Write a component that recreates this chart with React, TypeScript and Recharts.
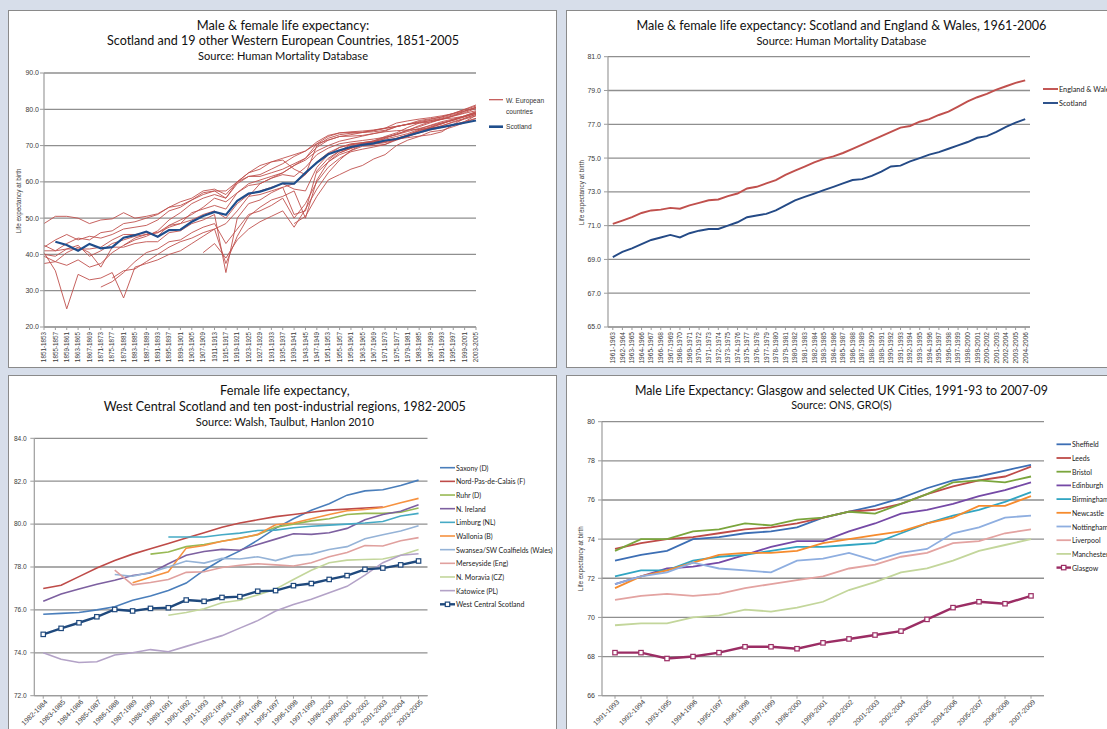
import React from "react"
import { LineChart, Line, XAxis, YAxis, CartesianGrid } from "recharts"

const TITLE_FONT = "Lato, 'Open Sans', sans-serif"
const AXIS_FONT = "'Liberation Sans', Arial, sans-serif"
const GRID = "#8f8f8f"
const AXIS = "#9c9c9c"
const TICK_TEXT = "#3a3a3a"
const RED = "#c0504d"
const BLUE = "#1f4e8c"

// pads a series that starts later than the first period
const late = (start: number, values: number[]) => [...Array(start).fill(null), ...values]

// ---------- panel 1: Scotland and 19 W. European countries, 1851-2005
const euPeriods = [
  "1851-1853", "1855-1857", "1859-1861", "1863-1865", "1867-1869", "1871-1873", "1875-1877",
  "1879-1881", "1883-1885", "1887-1889", "1891-1893", "1895-1897", "1899-1901", "1903-1905",
  "1907-1909", "1911-1913", "1915-1917", "1919-1921", "1923-1925", "1927-1929", "1931-1933",
  "1935-1937", "1939-1941", "1943-1945", "1947-1949", "1951-1953", "1955-1957", "1959-1961",
  "1963-1965", "1967-1969", "1971-1973", "1975-1977", "1979-1981", "1983-1985", "1987-1989",
  "1991-1993", "1995-1997", "1999-2001", "2003-2005",
]
const euTicks = [20, 30, 40, 50, 60, 70, 80, 90]
const scotlandLong = [null, 43.5, 42.6, 41.0, 42.9, 41.7, 42.0, 44.6, 45.3, 46.3, 44.9, 46.7, 46.8, 49.0, 50.6, 51.7, 50.9, 54.8, 56.8, 57.3, 58.3, 59.6, 59.5, 62.5, 65.3, 67.6, 68.7, 69.6, 70.2, 70.6, 71.4, 71.8, 72.7, 73.6, 74.5, 75.1, 75.7, 76.3, 76.9]
const sweden = [42.5, 41, 43, 44.5, 44, 46, 46.5, 48.5, 49, 50, 51, 53, 53.5, 55, 57, 57.5, 55.5, 59.5, 61.5, 62, 63.5, 65, 67, 68.5, 70.5, 71.5, 72.5, 73, 73.6, 74.2, 74.8, 75.3, 75.8, 76.6, 77.2, 77.9, 78.8, 79.6, 80.4]
const norway = [48.5, 50.5, 50.5, 50, 48.5, 49.5, 49.8, 51.5, 50, 50.5, 51.2, 53, 54.5, 55.5, 57.5, 58, 56.5, 60, 62.5, 63.5, 65.5, 66.5, 67.5, 68.5, 71, 72.8, 73.5, 73.6, 73.7, 74.1, 74.7, 75.3, 75.9, 76.2, 76.5, 77.3, 78.1, 78.9, 79.6]
const denmark = [42, 44, 45.5, 44, 45, 44.5, 45.5, 47, 47.5, 48, 49.5, 52, 53, 55, 56.5, 57.5, 57.5, 60, 61.5, 61.5, 62.5, 63.5, 65, 66.5, 69.5, 71.5, 72.5, 72.6, 72.8, 73.3, 73.8, 74.1, 74.3, 74.5, 74.8, 75.1, 75.7, 76.6, 77.5]
const france = [39.5, 38, 40.5, 42, 40.5, 36.5, 42, 42, 43, 43.5, 43.5, 46, 46.5, 48.5, 49.5, 51, 35, 50, 54, 55, 57, 58.5, 51, 52, 63, 66.5, 68.5, 70.3, 70.8, 71.3, 72.2, 73, 74.3, 75.2, 76.3, 77.3, 78.2, 79.1, 80.2]
const netherlands = [37.5, 38, 37, 38.5, 36.5, 37.5, 40.5, 42.5, 44, 45, 46.5, 49.5, 51.5, 54, 55.5, 56.5, 55.5, 60, 62.5, 64.5, 65.5, 66, 63.5, 62, 70, 72, 73, 73.4, 73.6, 73.8, 74.2, 75.2, 75.9, 76.4, 76.9, 77.3, 77.6, 78.1, 79]
const belgium = [40, 39.5, 41.5, 42.5, 39.5, 41, 43, 44, 45, 45.5, 46, 47.5, 48.5, 49.5, 51, 52, 50, 54, 56.5, 57.5, 58.5, 59.5, 58, 57.5, 64, 67.5, 69.5, 70.5, 70.8, 71.2, 71.8, 72.5, 73.3, 74.5, 75.6, 76.6, 77.3, 78, 78.9]
const englandWalesLong = [41, 41, 41.5, 41.5, 41.5, 42, 44, 45.5, 45.5, 46, 45, 48, 48.5, 51.5, 52.5, 53.5, 52.5, 57, 59, 59.5, 61, 62, 61.5, 64, 67.5, 69.3, 70.5, 71, 71.4, 71.8, 72.3, 73, 73.9, 74.7, 75.5, 76.3, 77, 77.9, 78.9]
const iceland = [40.5, 35.5, 25, 34.5, 33, 33.5, 35, 28, 36.5, 37.5, 38.5, 40, 41, 43, 45, 47, 48.5, 52, 56, 59.5, 61, 62.5, 64.5, 66.5, 70.5, 72.5, 73.5, 73.8, 74, 74.3, 74.8, 76.2, 76.8, 77.3, 77.7, 78.2, 78.8, 80, 81.2]
const finland = late(5, [31, 32.5, 35, 38, 40.5, 41.5, 43.5, 44, 46, 47.5, 48.5, 43, 47, 51, 52, 53.5, 55.5, 50, 54, 60, 64, 66.5, 68.3, 69, 69.6, 70.3, 71.8, 73, 74.2, 74.8, 75.4, 76.6, 77.5, 78.6])
const italy = late(6, [33.5, 35.5, 36, 38, 40, 42, 43.5, 44.5, 46, 47, 37.5, 45, 50.5, 53, 55, 56, 57.5, 50, 60.5, 65.5, 68, 69.3, 70.2, 71, 72, 73.2, 74.2, 75.5, 76.6, 77.2, 78.2, 79.5, 80.6])
const switzerland = late(7, [42.5, 44.5, 45.5, 46, 48, 49.5, 51, 53, 55.5, 54.5, 57, 59.5, 60.5, 61.5, 62.5, 64.5, 66, 68.5, 70, 71.2, 71.9, 72.6, 73.3, 74, 75.2, 75.9, 76.9, 77.4, 77.9, 78.9, 79.9, 80.9])
const spain = late(14, [40.5, 43, 39, 44, 47, 49, 50.5, 52, 47.5, 52.5, 58, 62.5, 66, 68.7, 70.2, 71.3, 72.5, 73.5, 75, 76.2, 76.9, 77.6, 78.5, 79.4, 80.5])
const northernIrelandLong = late(18, [56, 56.5, 57.5, 58.5, 59.5, 62, 65.5, 68, 69.5, 70.2, 70.6, 71, 71.2, 71.8, 72.7, 73.7, 74.6, 75.5, 76.4, 77.3, 78.2])
const portugal = late(22, [48.5, 50.5, 56, 60.5, 62, 63.5, 64.5, 66.3, 67.5, 70, 71.5, 72.5, 73.8, 74.2, 75.2, 76.3, 77.5])
const ireland = late(25, [66, 68.5, 69.8, 70.6, 71, 71.3, 72, 72.8, 73.5, 74.3, 75, 75.6, 76.6, 78.3])
const austria = late(24, [62.5, 65.5, 67.5, 68.6, 69.8, 70, 70.3, 71.5, 72.5, 73.6, 75, 76, 77, 78.2, 79.3])
const westGermany = late(26, [68.5, 69.3, 70.2, 70.4, 70.8, 71.6, 72.8, 74.2, 75.2, 76.2, 77, 78, 79])
const eastGermany = late(26, [68, 69.2, 70.5, 71, 71.3, 71.8, 72.2, 72.6, 73, 73.8, 75.8, 77.5, 78.6])
const luxembourg = late(28, [70, 70.5, 71, 72, 72.8, 74, 75, 76, 77.2, 78.2, 79.3])

const euSeries: [string, (number | null)[]][] = [
  ["Sweden", sweden], ["Norway", norway], ["Denmark", denmark], ["France", france],
  ["Netherlands", netherlands], ["Belgium", belgium], ["EnglandWales", englandWalesLong],
  ["Iceland", iceland], ["Finland", finland], ["Italy", italy], ["Switzerland", switzerland],
  ["Spain", spain], ["NorthernIreland", northernIrelandLong], ["Portugal", portugal],
  ["Ireland", ireland], ["Austria", austria], ["WestGermany", westGermany],
  ["EastGermany", eastGermany], ["Luxembourg", luxembourg],
]
const euData = euPeriods.map((period, i) => {
  const row: Record<string, string | number | null> = { period, Scotland: scotlandLong[i] }
  euSeries.forEach(([key, vals]) => { row[key] = vals[i] })
  return row
})

// ---------- panel 2: Scotland vs England & Wales, 1961-2006
const ukPeriods = [
  "1961-1963", "1962-1964", "1963-1965", "1964-1966", "1965-1967", "1966-1968", "1967-1969",
  "1968-1970", "1969-1971", "1970-1972", "1971-1973", "1972-1974", "1973-1975", "1974-1976",
  "1975-1977", "1976-1978", "1977-1979", "1978-1980", "1979-1981", "1980-1982", "1981-1983",
  "1982-1984", "1983-1985", "1984-1986", "1985-1987", "1986-1988", "1987-1989", "1988-1990",
  "1989-1991", "1990-1992", "1991-1993", "1992-1994", "1993-1995", "1994-1996", "1995-1997",
  "1996-1998", "1997-1999", "1998-2000", "1999-2001", "2000-2002", "2001-2003", "2002-2004",
  "2003-2005", "2004-2006",
]
const ukTicks = [65, 67, 69, 71, 73, 75, 77, 79, 81]
const englandWales = [71.1, 71.3, 71.5, 71.75, 71.9, 71.95, 72.05, 72.0, 72.2, 72.35, 72.5, 72.55, 72.75, 72.9, 73.2, 73.3, 73.5, 73.7, 74.0, 74.25, 74.5, 74.75, 74.95, 75.1, 75.3, 75.55, 75.8, 76.05, 76.3, 76.55, 76.8, 76.9, 77.15, 77.3, 77.55, 77.75, 78.05, 78.35, 78.6, 78.8, 79.05, 79.25, 79.45, 79.6]
const scotland = [69.14, 69.45, 69.65, 69.9, 70.15, 70.3, 70.45, 70.3, 70.55, 70.7, 70.8, 70.8, 71.0, 71.2, 71.5, 71.6, 71.7, 71.9, 72.2, 72.5, 72.7, 72.9, 73.1, 73.3, 73.5, 73.7, 73.75, 73.95, 74.2, 74.5, 74.55, 74.8, 75.0, 75.2, 75.35, 75.55, 75.75, 75.95, 76.2, 76.3, 76.55, 76.85, 77.1, 77.3]
const ukData = ukPeriods.map((period, i) => ({ period, ew: englandWales[i], scot: scotland[i] }))

// ---------- panel 3: female LE, West Central Scotland and ten regions
const regPeriods = [
  "1982-1984", "1983-1985", "1984-1986", "1985-1987", "1986-1988", "1987-1989", "1988-1990",
  "1989-1991", "1990-1992", "1991-1993", "1992-1994", "1993-1995", "1994-1996", "1995-1997",
  "1996-1998", "1997-1999", "1998-2000", "1999-2001", "2000-2002", "2001-2003", "2002-2004",
  "2003-2005",
]
const regTicks = [72, 74, 76, 78, 80, 82, 84]
const saxony = [75.8, 75.84, 75.88, 76.0, 76.15, 76.45, 76.65, 76.9, 77.25, 77.85, 78.35, 78.75, 79.25, 79.8, 80.25, 80.65, 80.95, 81.35, 81.55, 81.6, 81.8, 82.05]
const nordPas = [77.0, 77.15, 77.55, 77.95, 78.3, 78.6, 78.85, 79.1, 79.35, 79.6, 79.85, 80.05, 80.2, 80.35, 80.45, 80.55, 80.65, 80.7, 80.75, 80.8, null, null]
const ruhr = late(6, [78.6, 78.7, 78.95, 79.05, 79.2, 79.35, 79.5, 79.85, 80.0, 80.15, 80.25, 80.45, 80.5, 80.5, 80.55, 80.75])
const nIreland = [76.4, 76.74, 76.97, 77.2, 77.38, 77.6, 77.72, 78.15, 78.55, 78.72, 78.82, 78.78, 79.05, 79.3, 79.55, 79.52, 79.6, 79.8, 80.2, 80.45, 80.6, 80.9]
const limburg = late(7, [79.4, 79.4, 79.4, 79.5, 79.58, 79.7, 79.72, 79.83, 79.9, 79.95, 80.0, 80.05, 80.12, 80.38, 80.5])
const wallonia = late(5, [77.27, 77.52, 77.78, 78.88, 79.0, 79.2, 79.33, 79.52, 79.97, 80.05, 80.25, 80.45, 80.62, 80.68, 80.77, 81.0, 81.2])
const swansea = late(4, [77.65, 77.57, 77.75, 78.0, 78.28, 78.18, 78.4, 78.37, 78.48, 78.3, 78.53, 78.6, 78.82, 78.95, 79.32, 79.5, 79.68, 79.92])
const merseyside = late(4, [77.85, 77.17, 77.28, 77.42, 77.75, 77.78, 77.98, 78.08, 78.15, 78.1, 78.05, 78.2, 78.48, 78.68, 79.0, 78.98, 79.22, 79.37])
const nMoravia = late(7, [75.75, 75.88, 76.05, 76.33, 76.45, 76.7, 76.97, 77.42, 77.85, 78.2, 78.32, 78.35, 78.37, 78.55, 78.82])
const katowice = [74.0, 73.7, 73.55, 73.58, 73.9, 74.0, 74.15, 74.05, 74.3, 74.55, 74.8, 75.15, 75.5, 75.95, 76.25, 76.5, 76.8, 77.1, 77.62, 78.2, 78.55, 78.62]
const westCentral = [74.86, 75.14, 75.4, 75.68, 76.02, 75.95, 76.07, 76.1, 76.46, 76.4, 76.58, 76.62, 76.87, 76.9, 77.13, 77.23, 77.42, 77.6, 77.89, 77.95, 78.1, 78.28]

const regSeries: [string, string, (number | null)[]][] = [
  ["Saxony (D)", "#4a7ebb", saxony],
  ["Nord-Pas-de-Calais (F)", "#be4b48", nordPas],
  ["Ruhr (D)", "#98b954", ruhr],
  ["N. Ireland", "#7d60a0", nIreland],
  ["Limburg (NL)", "#46aac5", limburg],
  ["Wallonia (B)", "#f69240", wallonia],
  ["Swansea/SW Coalfields (Wales)", "#95b3d7", swansea],
  ["Merseyside (Eng)", "#e0a09e", merseyside],
  ["N. Moravia (CZ)", "#c3d69b", nMoravia],
  ["Katowice (PL)", "#b3a2c7", katowice],
]
const regHighlight: [string, string, number[]] = ["West Central Scotland", "#1f497d", westCentral]
const regData = regPeriods.map((period, i) => {
  const row: Record<string, string | number | null> = { period }
  regSeries.forEach(([, , vals], k) => { row["r" + k] = vals[i] })
  row.wcs = westCentral[i]
  return row
})

// ---------- panel 4: male LE, Glasgow and UK cities
const cityPeriods = [
  "1991-1993", "1992-1994", "1993-1995", "1994-1996", "1995-1997", "1996-1998", "1997-1999",
  "1998-2000", "1999-2001", "2000-2002", "2001-2003", "2002-2004", "2003-2005", "2004-2006",
  "2005-2007", "2006-2008", "2007-2009",
]
const cityTicks = [66, 68, 70, 72, 74, 76, 78, 80]
const sheffield = [72.9, 73.2, 73.4, 74.0, 74.1, 74.3, 74.4, 74.6, 75.1, 75.4, 75.7, 76.1, 76.6, 77.0, 77.2, 77.5, 77.8]
const leeds = [73.5, 73.8, 74.0, 74.1, 74.3, 74.5, 74.6, 74.8, 75.1, 75.4, 75.5, 75.8, 76.3, 76.7, 77.0, 77.2, 77.7]
const bristol = [73.4, 74.0, 74.0, 74.4, 74.5, 74.8, 74.7, 75.0, 75.1, 75.4, 75.3, 75.8, 76.3, 76.9, 77.0, 76.9, 77.2]
const edinburgh = [71.7, 72.1, 72.5, 72.6, 72.8, 73.2, 73.6, 73.9, 73.9, 74.4, 74.8, 75.3, 75.5, 75.8, 76.2, 76.5, 76.9]
const birmingham = [72.1, 72.4, 72.4, 72.9, 73.1, 73.2, 73.4, 73.6, 73.6, 73.7, 73.8, 74.3, 74.8, 75.2, 75.5, 75.9, 76.4]
const newcastle = [71.5, 72.1, 72.4, 72.8, 73.2, 73.3, 73.3, 73.4, 73.8, 74.0, 74.2, 74.4, 74.8, 75.1, 75.7, 75.7, 76.2]
const nottingham = [71.7, 72.1, 72.3, 72.8, 72.5, 72.4, 72.3, 72.9, 73.0, 73.3, 72.9, 73.3, 73.5, 74.3, 74.6, 75.1, 75.2]
const liverpool = [70.9, 71.1, 71.2, 71.1, 71.2, 71.5, 71.7, 71.9, 72.1, 72.5, 72.7, 73.1, 73.3, 73.8, 73.9, 74.3, 74.5]
const manchester = [69.6, 69.7, 69.7, 70.0, 70.1, 70.4, 70.3, 70.5, 70.8, 71.4, 71.8, 72.3, 72.5, 72.9, 73.4, 73.7, 74.0]
const glasgow = [68.2, 68.2, 67.9, 68.0, 68.2, 68.5, 68.5, 68.4, 68.7, 68.9, 69.1, 69.3, 69.9, 70.5, 70.8, 70.7, 71.1]

const citySeries: [string, string, number[]][] = [
  ["Sheffield", "#3c6eb4", sheffield],
  ["Leeds", "#be4b48", leeds],
  ["Bristol", "#7aa53c", bristol],
  ["Edinburgh", "#7549a6", edinburgh],
  ["Birmingham", "#31a5c2", birmingham],
  ["Newcastle", "#f68b2d", newcastle],
  ["Nottingham", "#8eaee0", nottingham],
  ["Liverpool", "#e3a3a1", liverpool],
  ["Manchester", "#c3d69b", manchester],
]
const cityHighlight: [string, string, number[]] = ["Glasgow", "#9b2d64", glasgow]
const cityData = cityPeriods.map((period, i) => {
  const row: Record<string, string | number> = { period }
  citySeries.forEach(([, , vals], k) => { row["c" + k] = vals[i] })
  row.glasgow = glasgow[i]
  return row
})

// ---------- shared bits
function VerticalTick(props: any) {
  const { x, y, payload, fs } = props
  return (
    <g transform={`translate(${x},${y}) rotate(-90)`}>
      <text x={0} y={0} dy="0.35em" textAnchor="end" fontSize={fs} fill={TICK_TEXT} fontFamily={AXIS_FONT}>
        {payload.value}
      </text>
    </g>
  )
}

function SlantTick(props: any) {
  const { x, y, payload } = props
  return (
    <g transform={`translate(${x + 3},${y + 1}) rotate(-45)`}>
      <text x={0} y={0} dy="0.35em" textAnchor="end" fontSize={7} fill={TICK_TEXT} fontFamily={AXIS_FONT}>
        {payload.value}
      </text>
    </g>
  )
}

const squareDot = (color: string) => (p: any) => {
  if (p.cx == null || p.cy == null || p.value == null) return <g key={`e${p.index}`} />
  return (
    <rect key={`s${p.index}`} x={p.cx - 2.2} y={p.cy - 2.2} width={4.4} height={4.4}
      fill="#fff" stroke={color} strokeWidth={1.2} />
  )
}

function Panel({ left, top, width, height, children }: any) {
  return (
    <div style={{
      position: "absolute", left, top, width, height, background: "#fff",
      outline: "1px solid #8a8a8a", outlineOffset: -1, overflow: "hidden",
    }}>
      {children}
    </div>
  )
}

function Overlay({ width, height, children }: any) {
  return (
    <svg width={width} height={height}
      style={{ position: "absolute", left: 0, top: 0, pointerEvents: "none" }}>
      {children}
    </svg>
  )
}

function Title({ x, y, size, w, children }: any) {
  return (
    <text x={x} y={y} fontSize={size} textAnchor="middle" dominantBaseline="central"
      fontFamily={TITLE_FONT} fill="#111" textLength={w} lengthAdjust="spacingAndGlyphs">
      {children}
    </text>
  )
}

function YLabel({ x, y }: any) {
  return (
    <text x={x} y={y} transform={`rotate(-90 ${x} ${y})`} textAnchor="middle"
      dominantBaseline="central" fontSize={6.3} fill={TICK_TEXT} fontFamily={AXIS_FONT}>
      Life expectancy at birth
    </text>
  )
}

const axisProps = { axisLine: { stroke: AXIS, strokeWidth: 1.2 }, tickLine: { stroke: AXIS } }
const yTick = (fs: number) => ({ fontSize: fs, fill: TICK_TEXT, fontFamily: AXIS_FONT })

export default function App() {
  return (
    <div style={{
      position: "absolute", left: 0, top: 0, width: 1107, height: 729,
      overflow: "hidden", background: "#d7deea",
    }}>
      {/* top-left */}
      <Panel left={8} top={10} width={549} height={358}>
        <LineChart width={549} height={358} data={euData}
          margin={{ top: 63, right: 81, bottom: 0, left: 0 }}>
          <CartesianGrid vertical={false} stroke={GRID} strokeWidth={1.3} />
          <XAxis dataKey="period" interval={0} height={41} tickSize={3} tickMargin={2}
            tick={(p: any) => <VerticalTick {...p} fs={6.3} />} {...axisProps} />
          <YAxis domain={[20, 90]} ticks={euTicks} width={36} tickSize={4} tickMargin={1}
            tickFormatter={(v: number) => v.toFixed(1)} tick={yTick(7)} {...axisProps} />
          {euSeries.map(([key]) => (
            <Line key={key} dataKey={key} stroke={RED} strokeWidth={0.9} dot={false}
              isAnimationActive={false} />
          ))}
          <Line dataKey="Scotland" stroke={BLUE} strokeWidth={2.2} dot={false}
            isAnimationActive={false} />
        </LineChart>
        <Overlay width={549} height={358}>
          <Title x={275} y={15} size={12.5} w={172.5}>Male &amp; female life expectancy:</Title>
          <Title x={275} y={30.7} size={12.5} w={352}>Scotland and 19 other Western European Countries, 1851-2005</Title>
          <Title x={275} y={46} size={10.5} w={170}>Source: Human Mortality Database</Title>
          <YLabel x={10.4} y={191} />
          <g fontFamily={AXIS_FONT} fontSize={6.6} fill="#333">
            <line x1={481} x2={495} y1={89.7} y2={89.7} stroke={RED} strokeWidth={1.2} />
            <text x={498} y={90} dominantBaseline="central">W. European</text>
            <text x={498} y={101} dominantBaseline="central">countries</text>
            <line x1={481} x2={495} y1={116.7} y2={116.7} stroke={BLUE} strokeWidth={2.6} />
            <text x={498} y={116.7} dominantBaseline="central">Scotland</text>
          </g>
        </Overlay>
      </Panel>

      {/* top-right */}
      <Panel left={566} top={10} width={560} height={358}>
        <LineChart width={560} height={358} data={ukData}
          margin={{ top: 46.7, right: 96, bottom: 0, left: 0 }}>
          <CartesianGrid vertical={false} stroke={GRID} strokeWidth={1.3} />
          <XAxis dataKey="period" interval={0} height={41} tickSize={3} tickMargin={2}
            padding={{ left: 4.8, right: 4.8 }}
            tick={(p: any) => <VerticalTick {...p} fs={6.6} />} {...axisProps} />
          <YAxis domain={[65, 81]} ticks={ukTicks} width={42} tickSize={4} tickMargin={3}
            tickFormatter={(v: number) => v.toFixed(1)} tick={yTick(7)} {...axisProps} />
          <Line dataKey="ew" stroke={RED} strokeWidth={1.9} dot={false} isAnimationActive={false} />
          <Line dataKey="scot" stroke="#244a86" strokeWidth={1.9} dot={false} isAnimationActive={false} />
        </LineChart>
        <Overlay width={560} height={358}>
          <Title x={275.4} y={15} size={12.5} w={410}>Male &amp; female life expectancy: Scotland and England &amp; Wales, 1961-2006</Title>
          <Title x={275.4} y={30.7} size={10.5} w={170}>Source: Human Mortality Database</Title>
          <YLabel x={15} y={182.5} />
          <g fontFamily={TITLE_FONT} fontSize={7.3} fill="#222">
            <line x1={477} x2={492} y1={79} y2={79} stroke={RED} strokeWidth={1.9} />
            <text x={493} y={79} dominantBaseline="central">England &amp; Wales</text>
            <line x1={477} x2={492} y1={93} y2={93} stroke="#244a86" strokeWidth={1.9} />
            <text x={493} y={93} dominantBaseline="central">Scotland</text>
          </g>
        </Overlay>
      </Panel>

      {/* bottom-left */}
      <Panel left={8} top={375} width={549} height={370}>
        <LineChart width={549} height={370} data={regData}
          margin={{ top: 63.3, right: 129.5, bottom: 0, left: 0 }}>
          <CartesianGrid vertical={false} stroke={GRID} strokeWidth={1.3} />
          <XAxis dataKey="period" interval={0} height={49.3} tickSize={3} tickMargin={1}
            padding={{ left: 8.94, right: 8.94 }} tick={SlantTick} {...axisProps} />
          <YAxis domain={[72, 84]} ticks={regTicks} width={26.3} tickSize={4} tickMargin={3.5}
            tickFormatter={(v: number) => v.toFixed(1)} tick={yTick(6.6)} {...axisProps} />
          {regSeries.map(([name, color], k) => (
            <Line key={name} dataKey={"r" + k} stroke={color} strokeWidth={1.6} dot={false}
              isAnimationActive={false} />
          ))}
          <Line dataKey="wcs" stroke={regHighlight[1]} strokeWidth={2.4}
            dot={squareDot(regHighlight[1])} isAnimationActive={false} />
        </LineChart>
        <Overlay width={549} height={370}>
          <Title x={276.8} y={15} size={12.5} w={129.6}>Female life expectancy,</Title>
          <Title x={276.8} y={31.7} size={12.5} w={362}>West Central Scotland and ten post-industrial regions, 1982-2005</Title>
          <Title x={276.8} y={47.3} size={10.5} w={178}>Source: Walsh, Taulbut, Hanlon 2010</Title>
          <g fontFamily={TITLE_FONT} fontSize={7} fill="#222">
            {[...regSeries, regHighlight].map(([name, color], k) => {
              const y = 92.7 + k * 13.66
              const last = k === regSeries.length
              return (
                <g key={name}>
                  <line x1={432} x2={447} y1={y} y2={y} stroke={color} strokeWidth={last ? 2.4 : 1.6} />
                  {last && <rect x={437.3} y={y - 2.2} width={4.4} height={4.4} fill="#fff" stroke={color} strokeWidth={1.2} />}
                  <text x={448} y={y} dominantBaseline="central">{name}</text>
                </g>
              )
            })}
          </g>
        </Overlay>
      </Panel>

      {/* bottom-right */}
      <Panel left={566} top={375} width={560} height={370}>
        <LineChart width={560} height={370} data={cityData}
          margin={{ top: 46.7, right: 82, bottom: 0, left: 0 }}>
          <CartesianGrid vertical={false} stroke={GRID} strokeWidth={1.3} />
          <XAxis dataKey="period" interval={0} height={49.3} tickSize={3} tickMargin={1}
            padding={{ left: 13, right: 13 }} tick={SlantTick} {...axisProps} />
          <YAxis domain={[66, 80]} ticks={cityTicks} width={36} tickSize={4} tickMargin={3}
            tick={yTick(7)} {...axisProps} />
          {citySeries.map(([name, color], k) => (
            <Line key={name} dataKey={"c" + k} stroke={color} strokeWidth={1.8} dot={false}
              isAnimationActive={false} />
          ))}
          <Line dataKey="glasgow" stroke={cityHighlight[1]} strokeWidth={2.4}
            dot={squareDot(cityHighlight[1])} isAnimationActive={false} />
        </LineChart>
        <Overlay width={560} height={370}>
          <Title x={275.4} y={15} size={12.5} w={413}>Male Life Expectancy: Glasgow and selected UK Cities, 1991-93 to 2007-09</Title>
          <Title x={275.4} y={30} size={10.5} w={100.5}>Source: ONS, GRO(S)</Title>
          <YLabel x={15} y={183.7} />
          <g fontFamily={TITLE_FONT} fontSize={7} fill="#222">
            {[...citySeries, cityHighlight].map(([name, color], k) => {
              const y = 69.3 + k * 13.7
              const last = k === citySeries.length
              return (
                <g key={name}>
                  <line x1={490.5} x2={505} y1={y} y2={y} stroke={color} strokeWidth={last ? 2.4 : 1.8} />
                  {last && <rect x={495.5} y={y - 2.2} width={4.4} height={4.4} fill="#fff" stroke={color} strokeWidth={1.2} />}
                  <text x={506} y={y} dominantBaseline="central">{name}</text>
                </g>
              )
            })}
          </g>
        </Overlay>
      </Panel>
    </div>
  )
}
